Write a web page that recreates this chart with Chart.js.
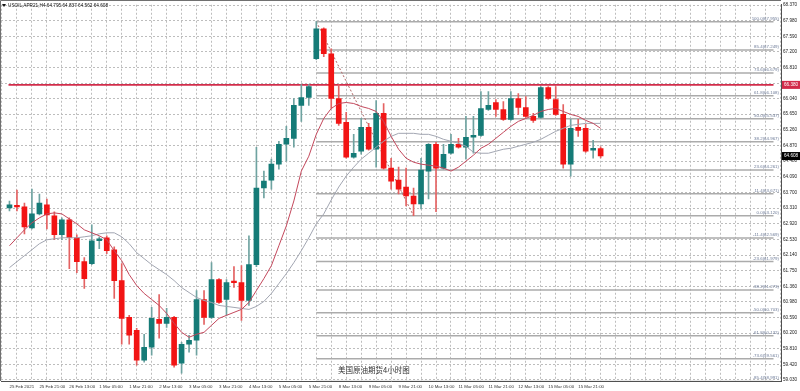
<!DOCTYPE html>
<html>
<head>
<meta charset="utf-8">
<script src="https://cdn.jsdelivr.net/npm/chart.js@4.4.1/dist/chart.umd.min.js"></script>
<style>
  html, body { margin: 0; padding: 0; background: #fff; }
</style>
</head>
<body>
<canvas id="chart" width="800" height="391"></canvas>
<script>
// USOIL H4 candles, one entry per 4h bar (index 0 = 25 Feb 2021)
var symbolTitle = 'USOIL,APR21,H4';
var watermark = '美国原油期货4小时图';

var timeLabels = ['25 Feb 2021', '25 Feb 21:00', '26 Feb 13:00', '1 Mar 05:00', '1 Mar 21:00',
  '2 Mar 13:00', '3 Mar 05:00', '3 Mar 21:00', '4 Mar 13:00', '5 Mar 05:00', '5 Mar 21:00',
  '8 Mar 13:00', '9 Mar 05:00', '9 Mar 21:00', '10 Mar 13:00', '11 Mar 05:00', '11 Mar 21:00',
  '12 Mar 13:00', '15 Mar 05:00', '15 Mar 21:00'];

var priceTicks = [68.370, 67.980, 67.590, 67.200, 66.810, 66.420, 66.040, 65.650, 65.260, 64.870,
  64.480, 64.090, 63.700, 63.310, 62.920, 62.530, 62.140, 61.750, 61.360, 60.980, 60.590,
  60.200, 59.810, 59.420, 59.030];

var opens = [63.316, 63.365, 63.340, 62.820, 63.167, 63.390, 63.117, 62.647, 63.018, 62.572,
  61.978, 61.928, 62.498, 62.572, 62.275, 61.507, 60.590, 60.268, 59.524, 59.846,
  60.540, 60.441, 60.590, 59.450, 59.921, 60.020, 61.036, 60.590, 61.531, 61.036,
  61.482, 61.457, 61.011, 61.903, 63.811, 64.009, 64.406, 64.901, 65.050, 65.868,
  66.066, 67.032, 67.775, 67.156, 66.041, 65.446, 64.579, 64.728, 65.322, 64.777,
  65.669, 64.307, 64.009, 63.836, 63.613, 63.415, 64.232, 64.901, 64.307, 64.678,
  64.901, 64.827, 65.075, 65.124, 65.768, 65.942, 65.768, 65.521, 66.041, 65.818,
  65.595, 65.570, 66.314, 66.016, 65.645, 64.406, 65.322, 65.298, 64.752, 64.795];

var highs = [63.489, 63.761, 63.439, 63.786, 63.662, 63.538, 63.216, 63.068, 63.068, 62.647,
  62.077, 62.894, 62.597, 62.622, 62.349, 61.928, 60.639, 60.317, 60.169, 60.837,
  61.160, 60.813, 60.614, 59.970, 60.144, 61.259, 61.259, 61.953, 61.556, 61.531,
  61.854, 61.879, 62.622, 64.827, 64.232, 64.530, 64.976, 65.347, 66.041, 66.388,
  66.388, 67.955, 67.800, 67.280, 66.388, 65.694, 65.149, 65.545, 65.422, 65.991,
  65.917, 64.554, 64.331, 64.307, 63.811, 64.554, 64.920, 64.951, 64.901, 65.149,
  65.050, 65.595, 65.595, 66.214, 66.214, 66.016, 65.967, 66.214, 66.165, 66.090,
  65.669, 66.338, 66.338, 66.338, 65.892, 65.521, 65.521, 65.397, 65.000, 64.837];

var lows = [63.241, 63.241, 62.671, 62.795, 63.142, 62.795, 62.523, 62.523, 61.804, 61.705,
  61.308, 61.903, 62.300, 62.176, 61.061, 59.921, 59.921, 59.400, 59.475, 59.648,
  60.069, 60.342, 59.351, 59.202, 59.722, 59.648, 60.416, 60.565, 60.937, 60.639,
  61.333, 60.515, 60.887, 61.854, 63.563, 63.786, 64.282, 64.480, 64.827, 65.471,
  65.868, 67.007, 67.082, 65.793, 65.372, 64.554, 64.554, 64.653, 64.752, 64.331,
  64.282, 63.786, 63.662, 63.365, 63.120, 63.291, 63.538, 63.220, 64.282, 64.653,
  64.802, 64.530, 64.678, 65.099, 65.744, 65.595, 65.496, 65.496, 65.645, 65.570,
  65.446, 65.545, 66.016, 65.620, 64.307, 64.108, 65.099, 64.700, 64.554, 64.562];

var closes = [63.390, 63.340, 62.845, 63.167, 63.439, 63.142, 62.647, 63.018, 62.572, 61.978,
  61.556, 62.498, 62.547, 62.250, 61.507, 60.565, 60.144, 59.524, 59.846, 60.565,
  60.441, 60.590, 59.400, 59.921, 60.020, 61.036, 60.590, 61.531, 60.961, 61.457,
  61.457, 61.011, 61.903, 63.811, 63.984, 64.406, 64.901, 65.050, 65.868, 66.066,
  66.338, 67.775, 67.156, 66.041, 65.422, 64.579, 64.678, 65.322, 64.777, 65.669,
  64.307, 63.984, 63.786, 63.613, 63.415, 64.257, 64.901, 64.307, 64.653, 64.901,
  64.827, 65.075, 65.124, 65.793, 65.868, 65.768, 65.521, 66.041, 65.818, 65.595,
  65.496, 66.314, 66.041, 65.645, 64.406, 65.298, 65.248, 64.728, 64.802, 64.608];

// moving averages
var maFast = [62.374, 62.572, 62.770, 62.944, 63.068, 63.167, 63.192, 63.167, 63.043, 62.919,
  62.770, 62.696, 62.622, 62.523, 62.250, 62.002, 61.655, 61.383, 61.185, 61.036,
  60.887, 60.689, 60.441, 60.218, 60.094, 60.169, 60.218, 60.392, 60.565, 60.640,
  60.714, 60.788, 60.962, 61.259, 61.556, 61.878, 62.374, 62.870, 63.489, 64.232,
  64.604, 65.149, 65.545, 65.793, 65.917, 65.942, 65.917, 65.843, 65.793, 65.719,
  65.471, 65.099, 64.777, 64.554, 64.455, 64.406, 64.381, 64.356, 64.307, 64.232,
  64.331, 64.480, 64.629, 64.802, 64.901, 65.050, 65.199, 65.347, 65.471, 65.545,
  65.620, 65.719, 65.768, 65.793, 65.719, 65.645, 65.595, 65.496, 65.422, 65.298];

var maSlow = [61.829, 61.978, 62.126, 62.275, 62.424, 62.523, 62.547, 62.572, 62.572, 62.572,
  62.597, 62.622, 62.671, 62.696, 62.696, 62.597, 62.424, 62.201, 62.052, 61.903,
  61.779, 61.655, 61.507, 61.333, 61.209, 61.086, 61.011, 60.962, 60.887, 60.863,
  60.838, 60.813, 60.788, 60.863, 60.987, 61.185, 61.432, 61.680, 61.953, 62.250,
  62.572, 62.919, 63.167, 63.514, 63.836, 64.108, 64.331, 64.530, 64.678, 64.827,
  64.976, 65.099, 65.174, 65.174, 65.174, 65.149, 65.149, 65.099, 65.025, 64.976,
  64.926, 64.852, 64.703, 64.678, 64.678, 64.728, 64.777, 64.802, 64.852, 64.901,
  64.951, 65.025, 65.124, 65.224, 65.298, 65.372, 65.397, 65.422, 65.422, 65.422];

// fibonacci tool: from the 8 Mar high to the 10 Mar low
var fibPct = [100, 85.4, 73.6, 61.8, 50, 38.2, 23.6, 11.4, 0, -11.4, -23.6, -38.2, -50, -61.8, -73.6, -85.4];
var fibHigh = 67.955, fibLow = 63.120;
var fibFrom = 41, fibTo = 54;
var alertLevel = 66.380;

var xMin = -0.13, xMax = 102.1;
var yMin = 59.005, yMax = 68.376;

function fibPrice(p) { return fibLow + (fibHigh - fibLow) * p / 100; }

var upBody = '#157b77', downBody = '#f21414';
var upWick = '#6fa3a1', downWick = '#e46262';
var isUp = closes.map(function (c, i) { return c >= opens[i]; });

var datasets = [];
datasets.push({
  type: 'bar', label: 'wicks',
  data: lows.map(function (l, i) { return { x: i, y: [l, highs[i]] }; }),
  backgroundColor: isUp.map(function (u) { return u ? upWick : downWick; }),
  barThickness: 1, grouped: false, order: 3
});
datasets.push({
  type: 'bar', label: 'bodies',
  data: opens.map(function (o, i) { return { x: i, y: [o, closes[i]] }; }),
  backgroundColor: isUp.map(function (u) { return u ? upBody : downBody; }),
  barThickness: 5, minBarLength: 1.5, grouped: false, order: 2
});
datasets.push({
  type: 'line', label: 'MA fast',
  data: maFast.map(function (v, i) { return { x: i, y: v }; }),
  borderColor: '#c4485c', borderWidth: 1, pointRadius: 0, tension: 0, order: 1
});
datasets.push({
  type: 'line', label: 'MA slow',
  data: maSlow.map(function (v, i) { return { x: i, y: v }; }),
  borderColor: '#a2a6b2', borderWidth: 1, pointRadius: 0, tension: 0, order: 1
});
fibPct.forEach(function (p) {
  datasets.push({
    type: 'line', label: 'fib ' + p,
    data: [{ x: fibFrom, y: fibPrice(p) }, { x: xMax, y: fibPrice(p) }],
    borderColor: '#ababab', borderWidth: 1.5, pointRadius: 0, order: 10
  });
});
datasets.push({
  type: 'line', label: 'fib trend',
  data: [{ x: fibFrom, y: fibHigh }, { x: fibTo, y: fibLow }],
  borderColor: '#b06666', borderWidth: 1, borderDash: [2, 2], pointRadius: 0, order: 9
});
datasets.push({
  type: 'line', label: 'alert',
  data: [{ x: xMin, y: alertLevel }, { x: xMax, y: alertLevel }],
  borderColor: '#d22c4a', borderWidth: 1.6, pointRadius: 0, order: 8
});

var gridTicks = [];
for (var t = 0; t <= 102; t += 2) gridTicks.push(t);

var smallFont = '"Liberation Sans", Arial, sans-serif';

var decor = {
  id: 'decor',
  beforeDraw: function (chart) {
    var ctx = chart.ctx;
    ctx.save();
    ctx.fillStyle = '#fff';
    ctx.fillRect(0, 0, chart.width, chart.height);
    ctx.restore();
  },
  afterDraw: function (chart) {
    var ctx = chart.ctx, a = chart.chartArea, y = chart.scales.y;
    ctx.save();
    // frame top and left
    ctx.strokeStyle = '#707070';
    ctx.lineWidth = 1;
    ctx.beginPath();
    ctx.moveTo(0.5, a.bottom);
    ctx.lineTo(0.5, 0.5);
    ctx.lineTo(a.right, 0.5);
    ctx.stroke();

    // fib level labels
    ctx.font = '4.4px ' + smallFont;
    ctx.fillStyle = '#6d7b98';
    ctx.textAlign = 'right';
    ctx.textBaseline = 'bottom';
    fibPct.forEach(function (p) {
      var v = fibPrice(p);
      ctx.fillText(p.toFixed(1) + '(' + v.toFixed(3) + ')', a.right - 2, Math.min(y.getPixelForValue(v) - 1, a.bottom - 1));
    });

    // symbol line
    var last = closes.length - 1;
    ctx.fillStyle = '#111';
    ctx.beginPath();
    ctx.moveTo(2, 4); ctx.lineTo(6, 4); ctx.lineTo(4, 7); ctx.closePath();
    ctx.fill();
    ctx.font = '4.7px ' + smallFont;
    ctx.textAlign = 'left';
    ctx.textBaseline = 'middle';
    ctx.fillText(symbolTitle + ' ' + opens[last].toFixed(3) + ' ' + highs[last].toFixed(3) + ' ' +
      lows[last].toFixed(3) + ' ' + closes[last].toFixed(3), 8, 6);

    // watermark caption
    ctx.font = '7.5px "Noto Sans CJK SC"';
    ctx.fillStyle = '#333';
    ctx.fillText(watermark, 338, 370);

    // price boxes on the axis
    function box(v, bg) {
      var py = y.getPixelForValue(v);
      ctx.fillStyle = bg;
      ctx.fillRect(a.right + 1, py - 4, chart.width - a.right - 1, 8);
      ctx.fillStyle = '#fff';
      ctx.font = '4.6px ' + smallFont;
      ctx.textAlign = 'left';
      ctx.textBaseline = 'middle';
      ctx.fillText(v.toFixed(3), a.right + 3, py);
    }
    box(alertLevel, '#d22c4a');
    box(closes[last], '#000');
    ctx.restore();
  }
};

Chart.defaults.font.family = smallFont;

new Chart(document.getElementById('chart').getContext('2d'), {
  type: 'bar',
  data: { datasets: datasets },
  options: {
    responsive: false,
    animation: false,
    devicePixelRatio: 1,
    layout: { padding: { top: 1, left: 1, right: 0, bottom: 0 } },
    plugins: { legend: { display: false }, tooltip: { enabled: false } },
    scales: {
      x: {
        type: 'linear', min: xMin, max: xMax,
        afterBuildTicks: function (s) { s.ticks = gridTicks.map(function (v) { return { value: v }; }); },
        afterFit: function (s) { s.height = 10; },
        grid: { color: '#bdbdbd', lineWidth: 1, drawTicks: false },
        border: { display: true, color: '#505050', width: 1, dash: [2, 2] },
        ticks: {
          autoSkip: false, maxRotation: 0, align: 'start', padding: 3,
          color: '#333', font: { size: 4.4 },
          callback: function (v) { return v % 4 === 0 && timeLabels[v / 4] ? timeLabels[v / 4] : ''; }
        }
      },
      y: {
        position: 'right', min: yMin, max: yMax,
        afterBuildTicks: function (s) { s.ticks = priceTicks.map(function (v) { return { value: v }; }); },
        afterFit: function (s) { s.width = 19; },
        grid: { color: '#bdbdbd', lineWidth: 1, drawTicks: false },
        border: { display: true, color: '#505050', width: 1, dash: [2, 2] },
        ticks: {
          padding: 2, color: '#222', font: { size: 4.6 },
          callback: function (v) { return Number(v).toFixed(3); }
        }
      }
    }
  },
  plugins: [decor]
});
</script>
</body>
</html>
